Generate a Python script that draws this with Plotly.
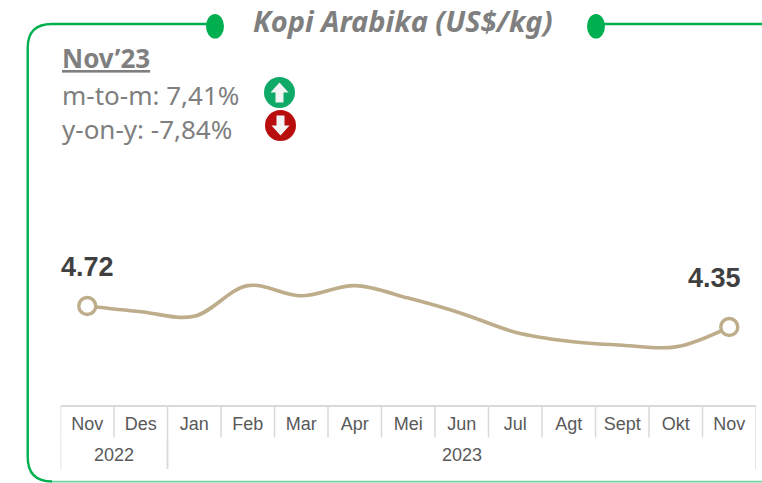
import plotly.graph_objects as go

months = ["Nov", "Des", "Jan", "Feb", "Mar", "Apr", "Mei", "Jun", "Jul", "Agt", "Sept", "Okt", "Nov"]
prices = [4.72, 4.62, 4.54, 5.08, 4.90, 5.08, 4.86, 4.59, 4.26, 4.10, 4.03, 4.00, 4.35]
year_labels = ["2022", "2023"]
year_spans = [(0, 1), (2, 12)]
title_text = "Kopi Arabika (US$/kg)"
period_text = "Nov’23"
mtm_text = "m-to-m: 7,41%"
yoy_text = "y-on-y: -7,84%"

W, H = 762, 483
GREEN = "#00B050"
TAN = "#BDAD8A"
GREY = "#7F7F7F"
AX = "#D9D9D9"
NARROW = "Liberation Sans, Arial, sans-serif"
SANS = "Noto Sans, Open Sans, sans-serif"

def fx(p): return p / W
def fy(p): return 1 - p / H

idx = list(range(len(months)))
fig = go.Figure()
fig.add_trace(go.Scatter(x=idx, y=prices, mode="lines",
                         line=dict(color=TAN, width=3.6, shape="spline", smoothing=1.0),
                         hoverinfo="skip", showlegend=False))
ends = [0, len(months) - 1]
fig.add_trace(go.Scatter(x=ends, y=[prices[i] for i in ends], mode="markers",
                         marker=dict(size=17, color="white", line=dict(color=TAN, width=3.4)),
                         hoverinfo="skip", showlegend=False))

shapes = []
def paper_line(x0, y0, x1, y1, color, width):
    shapes.append(dict(type="line", xref="paper", yref="paper", x0=fx(x0), y0=fy(y0), x1=fx(x1), y1=fy(y1),
                       line=dict(color=color, width=width), layer="below"))

# green frame
P = lambda x, y: f"{fx(x):.5f} {fy(y):.5f}"
frame = (f"M {P(215,24)} L {P(52,24)} Q {P(27.7,24)} {P(27.7,48)} "
         f"L {P(27.7,457)} Q {P(27.7,481.5)} {P(52,481.5)}")
shapes.append(dict(type="path", xref="paper", yref="paper", path=frame, line=dict(color=GREEN, width=2.4)))
paper_line(52, 481.7, 762, 481.7, "#6FD3A0", 1.8)
paper_line(596, 24, 762, 24, GREEN, 2.4)
for cx in (215, 596):
    shapes.append(dict(type="circle", xref="paper", yref="paper", x0=fx(cx - 9), x1=fx(cx + 9),
                       y0=fy(26.3 + 12.3), y1=fy(26.3 - 12.3), fillcolor=GREEN, line=dict(width=0)))

# trend icons
def icon(cx, cy, color, up):
    shapes.append(dict(type="circle", xref="paper", yref="paper", x0=fx(cx - 15.5), x1=fx(cx + 15.5),
                       y0=fy(cy + 15.5), y1=fy(cy - 15.5), fillcolor=color, line=dict(width=0)))
    s = -1 if up else 1
    pts = [(-4, -10), (4, -10), (4, 0), (9, 0), (0, 10), (-9, 0), (-4, 0)]
    d = "M " + " L ".join(P(cx + a, cy + s * b) for a, b in pts) + " Z"
    shapes.append(dict(type="path", xref="paper", yref="paper", path=d, fillcolor="#F4F4F4", line=dict(width=0)))
icon(279.5, 92.5, "#0FA968", True)
icon(280.5, 125.5, "#B90E0E", False)

# axis dividers
for i in idx + [len(months)]:
    shapes.append(dict(type="line", xref="x", yref="paper", x0=i - 0.5, x1=i - 0.5, y0=fy(405.5), y1=fy(437.5),
                       line=dict(color=AX, width=1.5)))
for a, b in year_spans:
    for v in (a - 0.5, b + 0.5):
        shapes.append(dict(type="line", xref="x", yref="paper", x0=v, x1=v, y0=fy(437.5), y1=fy(469),
                           line=dict(color=AX, width=1.5)))

ann = []
def text(x, y, t, size, color=GREY, font=SANS, anchor="left", **kw):
    ann.append(dict(xref="paper", yref="paper", x=fx(x), y=fy(y), text=t, showarrow=False, xanchor=anchor,
                    yanchor="middle", font=dict(size=size, color=color, family=font), **kw))
text(403, 21, f"<b><i>{title_text}</i></b>", 29, anchor="center")
text(60, 58, f"<b><u>{period_text}</u></b>", 26)
text(60, 95, mtm_text, 26)
text(60, 129, yoy_text, 26)

for (a, b), lab in zip(year_spans, year_labels):
    ann.append(dict(xref="x", yref="paper", x=(a + b) / 2, y=fy(455), text=lab, showarrow=False, yanchor="middle",
                    font=dict(size=18, color="#595959", family=NARROW)))
ann.append(dict(xref="x", yref="y", x=0, y=prices[0], text=f"<b>{prices[0]:.2f}</b>", showarrow=False, yshift=39,
                font=dict(size=27, color="#404040", family=NARROW)))
ann.append(dict(xref="x", yref="y", x=12, y=prices[-1], text=f"<b>{prices[-1]:.2f}</b>", showarrow=False, yshift=49,
                xshift=-15, font=dict(size=27, color="#404040", family=NARROW)))

fig.update_layout(
    width=W, height=H, autosize=False, margin=dict(l=0, r=0, t=0, b=0),
    paper_bgcolor="white", plot_bgcolor="white", showlegend=False,
    shapes=shapes, annotations=ann,
    xaxis=dict(domain=[fx(60.5), fx(756)], range=[-0.5, 12.5], tickmode="array", tickvals=idx, ticktext=months,
               showgrid=False, zeroline=False, showline=True, linecolor=AX, linewidth=2, ticks="",
               tickangle=0, ticklabelstandoff=1, tickfont=dict(size=18, color="#595959", family=NARROW)),
    yaxis=dict(domain=[fy(405), fy(230)], range=[2.976, 6.06], visible=False),
)
fig.write_html("out.html", config=dict(displayModeBar=False),
               post_script="document.body.style.margin='0';document.documentElement.style.overflow='hidden';")
